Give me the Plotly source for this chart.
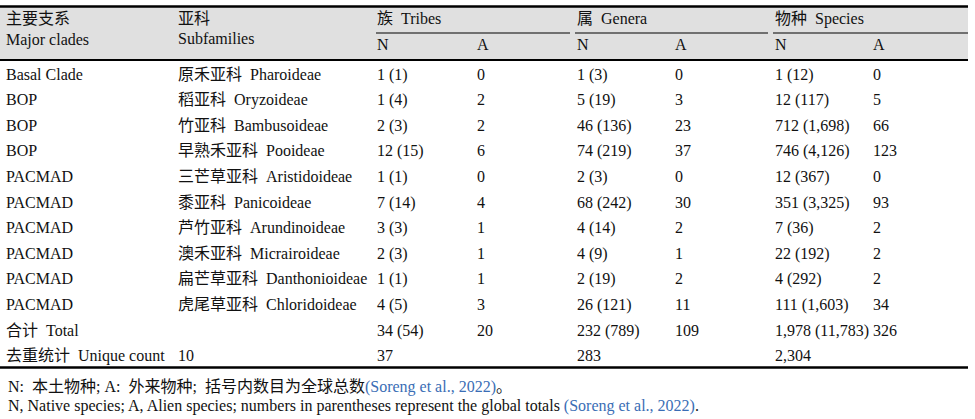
import plotly.graph_objects as go

# table content
clades = ["Basal Clade", "BOP", "BOP", "BOP", "PACMAD", "PACMAD",
          "PACMAD", "PACMAD", "PACMAD", "PACMAD"]
subfamilies = ["原禾亚科  Pharoideae", "稻亚科  Oryzoideae", "竹亚科  Bambusoideae",
               "早熟禾亚科  Pooideae", "三芒草亚科  Aristidoideae", "黍亚科  Panicoideae",
               "芦竹亚科  Arundinoideae", "澳禾亚科  Micrairoideae",
               "扁芒草亚科  Danthonioideae", "虎尾草亚科  Chloridoideae"]
tribes_n = ["1 (1)", "1 (4)", "2 (3)", "12 (15)", "1 (1)", "7 (14)", "3 (3)", "2 (3)", "1 (1)", "4 (5)"]
tribes_a = ["0", "2", "2", "6", "0", "4", "1", "1", "1", "3"]
genera_n = ["1 (3)", "5 (19)", "46 (136)", "74 (219)", "2 (3)", "68 (242)", "4 (14)", "4 (9)", "2 (19)", "26 (121)"]
genera_a = ["0", "3", "23", "37", "0", "30", "2", "1", "2", "11"]
species_n = ["1 (12)", "12 (117)", "712 (1,698)", "746 (4,126)", "12 (367)", "351 (3,325)",
             "7 (36)", "22 (192)", "4 (292)", "111 (1,603)"]
species_a = ["0", "5", "66", "123", "0", "93", "2", "2", "2", "34"]

total_row = ["合计  Total", "", "34 (54)", "20", "232 (789)", "109", "1,978 (11,783)", "326"]
unique_row = ["去重统计  Unique count", "10", "37", "", "283", "", "2,304", ""]

group_titles = ["族  Tribes", "属  Genera", "物种  Species"]
sub_titles = ["N", "A", "N", "A", "N", "A"]

note_cn = "N:  本土物种; A:  外来物种;  括号内数目为全球总数"
note_en = "N, Native species; A, Alien species; numbers in parentheses represent the global totals "
note_ref = "(Soreng et al., 2022)"

FONT = "Liberation Serif, Noto Sans CJK SC"
W, H = 975, 419
col_x = [6, 178, 377, 477, 577, 675, 775, 873]
row0, row_step = 75.5, 25.6

columns = [clades, subfamilies, tribes_n, tribes_a, genera_n, genera_a, species_n, species_a]
rows = [list(r) for r in zip(*columns)] + [total_row, unique_row]

fig = go.Figure()

xs, ys, ts = [], [], []
for i, row in enumerate(rows):
    for j, cell in enumerate(row):
        if cell:
            xs.append(col_x[j])
            ys.append(row0 + i * row_step)
            ts.append(cell)

# header texts
hx = [col_x[0], col_x[1], col_x[2], col_x[4], col_x[6]]
hy = [19.5] * 5
ht = ["主要支系", "亚科"] + group_titles
hx += [col_x[0], col_x[1]] + col_x[2:]
hy += [40.5, 39.5] + [45.5] * 6
ht += ["Major clades", "Subfamilies"] + sub_titles

fig.add_trace(go.Scatter(
    x=xs + hx, y=ys + hy, text=ts + ht, mode="text",
    textposition="middle right",
    textfont=dict(family=FONT, size=16, color="#111111"),
    hoverinfo="skip", showlegend=False,
))

shapes = [
    dict(type="rect", x0=0, x1=968, y0=7, y1=60, fillcolor="#e0e0e0", line_width=0, layer="below"),
    dict(type="line", x0=0, x1=968, y0=6.5, y1=6.5, line=dict(color="black", width=2.5)),
    dict(type="line", x0=0, x1=968, y0=60, y1=60, line=dict(color="black", width=2)),
    dict(type="line", x0=0, x1=968, y0=367.5, y1=367.5, line=dict(color="black", width=2.5)),
]
for a, b in [(376, 570), (575, 768), (773, 968)]:
    shapes.append(dict(type="line", x0=a, x1=b, y0=33, y1=33, line=dict(color="black", width=1)))

annotations = [
    dict(x=6, y=387, xanchor="left", yanchor="middle", showarrow=False,
         text=note_cn + "<span style='color:#3a6db5'>" + note_ref + "</span>。",
         font=dict(family=FONT, size=16, color="#111111")),
    dict(x=6, y=406, xanchor="left", yanchor="middle", showarrow=False,
         text=note_en + "<span style='color:#3a6db5'>" + note_ref + "</span>.",
         font=dict(family=FONT, size=16, color="#111111")),
]

fig.update_layout(
    width=W, height=H,
    margin=dict(l=0, r=0, t=0, b=0),
    font=dict(family=FONT, size=16, color="#111111"),
    paper_bgcolor="white", plot_bgcolor="white",
    xaxis=dict(range=[0, W], visible=False, fixedrange=True),
    yaxis=dict(range=[H, 0], visible=False, fixedrange=True),
    shapes=shapes, annotations=annotations,
)

fig.write_html("out.html", config={"displayModeBar": False},
               post_script="document.body.style.margin='0';")
